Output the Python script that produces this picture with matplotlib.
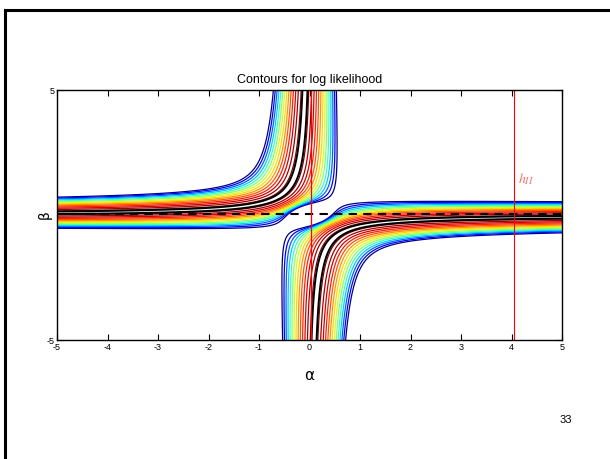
import numpy as np
import matplotlib
matplotlib.use("Agg")
import matplotlib.pyplot as plt
from matplotlib.lines import Line2D

plt.rcParams['font.family'] = ['Liberation Sans Narrow', 'Liberation Sans', 'DejaVu Sans']
plt.rcParams['axes.unicode_minus'] = False

# parameter ranges and model values
alpha_lim = [-5, 5]
beta_lim = [-5, 5]
ridge_prod = -0.45         # alpha*beta on the likelihood ridge
band_halfwidth = 0.62      # far-field distance of the outermost contour from the ridge
n_levels = 14
h_I = 0.02                 # vertical red line near zero
h_II = 4.05                # vertical red line labelled h_II
beta_ref = 0.05            # dashed black line
xticks = [-5, -4, -3, -2, -1, 0, 1, 2, 3, 4, 5]
yticks = [-5, 5]

a = np.linspace(alpha_lim[0], alpha_lim[1], 1001)
b = np.linspace(beta_lim[0], beta_lim[1], 1001)
A, B = np.meshgrid(a, b)
p = 0.8
scale = 5.0 ** (1 - p)
dist = (A * B - ridge_prod) / (A**2 + B**2 + 0.005) ** (p / 2) / scale
loglik = -dist**2

steps = np.linspace(1.0, 1.0 / n_levels, n_levels) ** 0.8
levels = -(band_halfwidth * steps) ** 2

fig = plt.figure(figsize=(6.1, 4.59), dpi=100)
ax = fig.add_axes([57/610, 1 - 340/459, 505/610, 250/459])

ax.contour(A, B, loglik, levels=levels, cmap='jet', linewidths=0.9, linestyles='solid')
ax.contour(A, B, loglik, levels=[-0.0025], colors='k', linewidths=1.4, linestyles='solid')

ax.axhline(beta_ref, color='k', linestyle='--', linewidth=1.5, dashes=(4, 3))
ax.axvline(h_I, color='red', linewidth=0.9)
ax.axvline(h_II, color='red', linewidth=0.8)
ax.text(h_II + 0.08, 1.45, r'$h_{II}$', color='#f07070', fontsize=10,
        math_fontfamily='stix', ha='left', va='center')

ax.set_xlim(alpha_lim)
ax.set_ylim(beta_lim)
ax.set_xticks(xticks)
ax.set_yticks(yticks)
ax.tick_params(direction='in', top=True, right=True, labelsize=6.5, length=4, width=0.8, pad=2)
for s in ax.spines.values():
    s.set_linewidth(1.0)

ax.set_title('Contours for log likelihood', fontsize=9, pad=5)
ax.set_xlabel('α', fontsize=11, labelpad=12, family=['DejaVu Sans'])
ax.set_ylabel('β', fontsize=10, labelpad=-4, family=['DejaVu Sans'])

# slide frame and page number
fig.add_artist(Line2D([5/610, 5/610], [0, 1 - 10/459], color='k', linewidth=2.2, transform=fig.transFigure))
fig.add_artist(Line2D([5/610, 1], [1 - 10/459, 1 - 10/459], color='k', linewidth=2.2, transform=fig.transFigure))
fig.text(566/610, 1 - 420/459, '33', fontsize=8, ha='center', va='center', family=['Liberation Sans'])

fig.savefig('out.png', dpi=100)
